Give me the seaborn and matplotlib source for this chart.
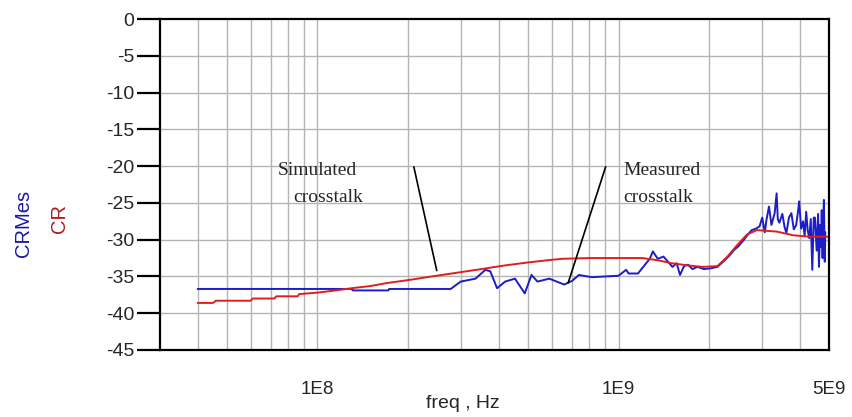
import numpy as np
import pandas as pd
import matplotlib
matplotlib.use("Agg")
import matplotlib.pyplot as plt
import seaborn as sns
from matplotlib.ticker import FixedLocator, LogLocator, NullFormatter

# ---- data ----
cr_freq = [4.0e7, 4.5e7, 4.6e7, 6.0e7, 6.1e7, 7.2e7, 7.3e7, 8.6e7, 8.7e7, 1.0e8, 1.15e8,
           1.3e8, 1.5e8, 1.7e8, 2.0e8, 2.4e8, 2.9e8, 3.5e8, 4.2e8, 5.0e8, 5.8e8, 6.5e8,
           8.0e8, 1.0e9, 1.2e9, 1.35e9, 1.5e9, 1.7e9, 1.9e9, 2.13e9, 2.3e9, 2.47e9,
           2.67e9, 2.88e9, 3.35e9, 3.8e9, 4.3e9, 5.0e9]
cr_db = [-38.6, -38.6, -38.3, -38.3, -38.0, -38.0, -37.7, -37.7, -37.4, -37.2, -36.9,
         -36.6, -36.3, -35.9, -35.5, -35.0, -34.5, -34.0, -33.5, -33.1, -32.8, -32.6,
         -32.5, -32.5, -32.5, -32.8, -33.2, -33.5, -33.7, -33.6, -32.3, -30.8,
         -29.3, -28.7, -28.9, -29.4, -29.6, -29.6]

crmes_freq = [4.0e7, 1.3e8, 1.31e8, 1.72e8, 1.73e8, 2.77e8, 2.99e8, 3.35e8, 3.61e8, 3.75e8,
              3.95e8, 4.2e8, 4.53e8, 4.88e8, 5.14e8, 5.38e8, 5.89e8, 6.6e8, 7.01e8, 7.39e8,
              8.15e8, 9.06e8, 1.0e9, 1.06e9, 1.08e9, 1.16e9, 1.23e9, 1.27e9, 1.3e9, 1.35e9,
              1.41e9, 1.46e9, 1.51e9, 1.56e9, 1.6e9, 1.65e9, 1.7e9, 1.76e9, 1.83e9, 1.92e9,
              2.02e9, 2.13e9, 2.25e9, 2.33e9, 2.42e9, 2.5e9, 2.61e9, 2.7e9, 2.77e9, 2.86e9,
              2.94e9, 3.0e9, 3.06e9, 3.1e9, 3.16e9, 3.22e9, 3.3e9, 3.35e9, 3.38e9, 3.42e9,
              3.5e9, 3.56e9, 3.61e9, 3.68e9, 3.75e9, 3.82e9, 3.89e9, 3.95e9, 3.98e9, 4.04e9,
              4.1e9, 4.15e9, 4.2e9, 4.25e9, 4.3e9, 4.35e9, 4.4e9, 4.45e9, 4.49e9, 4.55e9,
              4.6e9, 4.63e9, 4.67e9, 4.7e9, 4.73e9, 4.76e9, 4.78e9, 4.81e9, 4.84e9, 4.86e9]
crmes_db = [-36.7, -36.7, -36.9, -36.9, -36.7, -36.7, -35.7, -35.3, -34.1, -34.3,
            -36.6, -35.7, -35.3, -37.3, -34.8, -35.7, -35.3, -36.1, -35.6, -34.8,
            -35.1, -35.0, -34.9, -34.1, -34.6, -34.6, -33.3, -32.6, -31.6, -32.6,
            -32.3, -33.0, -33.7, -33.2, -34.8, -33.6, -33.4, -34.0, -33.7, -34.0,
            -33.9, -33.7, -32.8, -32.2, -31.4, -30.9, -30.0, -29.2, -28.7, -28.5,
            -28.2, -27.0, -29.0, -27.3, -25.5, -28.0, -26.4, -23.7, -27.2, -27.7,
            -26.5, -28.3, -29.1, -27.0, -26.4, -28.6, -28.0, -26.0, -24.8, -28.5,
            -27.5, -29.5, -26.2, -28.8, -29.8, -27.2, -34.1, -27.0, -27.0, -31.5,
            -26.5, -33.7, -28.0, -31.0, -26.0, -32.5, -27.5, -24.6, -33.0, -29.0]

x_ticks = [3e7, 1e8, 1e9, 5e9]
x_ticklabels = ["", "1E8", "1E9", "5E9"]
y_ticks = [0, -5, -10, -15, -20, -25, -30, -35, -40, -45]

df_cr = pd.DataFrame({"freq": cr_freq, "CR": cr_db})
df_mes = pd.DataFrame({"freq": crmes_freq, "CRMes": crmes_db})

sns.set_style("white")
plt.rcParams["font.family"] = ["Liberation Sans", "DejaVu Sans"]

fig = plt.figure(figsize=(8.52, 4.17), dpi=100)
ax = fig.add_axes([160 / 852, 1 - 350 / 417, (829 - 160) / 852, (350 - 19) / 417])

blue = "#1c1cc8"
red = "#e01e1e"

sns.lineplot(data=df_mes, x="freq", y="CRMes", ax=ax, color=blue, lw=1.4,
             estimator=None, sort=False)
sns.lineplot(data=df_cr, x="freq", y="CR", ax=ax, color=red, lw=1.4,
             estimator=None, sort=False)

ax.set_xscale("log")
ax.set_xlim(3e7, 5e9)
ax.set_ylim(-45, 0)

ax.xaxis.set_major_locator(FixedLocator(x_ticks))
ax.set_xticklabels(x_ticklabels)
ax.xaxis.set_minor_locator(LogLocator(base=10, subs=np.arange(1, 10)))
ax.xaxis.set_minor_formatter(NullFormatter())
ax.set_yticks(y_ticks)
ax.set_yticklabels([str(v) for v in y_ticks])

ax.grid(False)
for xv in LogLocator(base=10, subs=np.arange(1, 10)).tick_values(3e7, 5e9):
    if 3e7 < xv < 5e9:
        ax.axvline(xv, color="#b4b4b4", lw=1.0, zorder=0)
for yv in y_ticks:
    if -45 < yv < 0:
        ax.axhline(yv, color="#b4b4b4", lw=1.0, zorder=0)

ax.tick_params(axis="x", which="major", direction="out", length=14.5, width=1.6,
               pad=8, labelsize=13.5, color="black")
ax.tick_params(axis="x", which="minor", length=0)
ax.tick_params(axis="y", which="major", direction="out", length=16.5, width=1.6,
               pad=2, labelsize=14, color="black", left=True)
ax.xaxis.get_major_ticks()[3].tick1line.set_visible(False)

for s in ax.spines.values():
    s.set_color("black")
    s.set_linewidth(1.6)
    s.set_visible(True)

ax.set_xlabel("")
ax.set_ylabel("")
fig.text(463 / 852, 1 - 403 / 417, "freq , Hz", ha="center", va="center", fontsize=14)
fig.text(23 / 852, 1 - 223 / 417, "CRMes", rotation=90, ha="center", va="center",
         fontsize=14.5, color="#1a1aa0")
fig.text(60 / 852, 1 - 219 / 417, "CR", rotation=90, ha="center", va="center",
         fontsize=14.5, color="#b01e1e")

serif = ["Liberation Serif", "DejaVu Serif"]
ax.text(7.4e7, -20.6, "Simulated", family=serif, fontsize=14, ha="left", va="center")
ax.text(8.3e7, -24.2, "crosstalk", family=serif, fontsize=14, ha="left", va="center")
ax.text(1.04e9, -20.6, "Measured", family=serif, fontsize=14, ha="left", va="center")
ax.text(1.04e9, -24.2, "crosstalk", family=serif, fontsize=14, ha="left", va="center")
ax.plot([2.09e8, 2.49e8], [-20.1, -34.2], color="black", lw=1.2)
ax.plot([9.06e8, 6.8e8], [-20.1, -35.9], color="black", lw=1.2)

fig.savefig("out.png", dpi=100)
